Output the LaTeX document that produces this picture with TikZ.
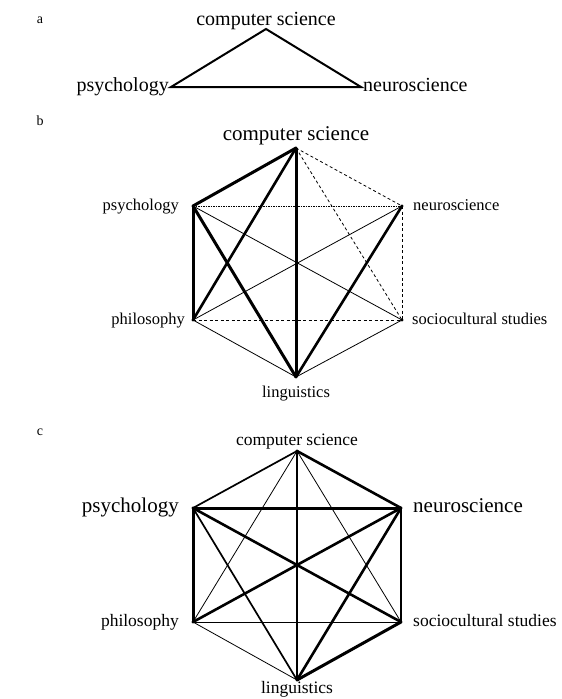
\documentclass[tikz,border=0pt]{standalone}
\usepackage{fontspec}
\setmainfont{Liberation Serif}
\begin{document}
\begin{tikzpicture}[x=1pt,y=-1pt,
  lbl/.style={inner sep=0pt},
  big/.style={lbl,font=\fontsize{21}{24}\selectfont},
  mida/.style={lbl,font=\fontsize{20}{24}\selectfont},
  smb/.style={lbl,font=\fontsize{16.5}{20}\selectfont},
  smc/.style={lbl,font=\fontsize{17.5}{20}\selectfont},
  panel/.style={lbl,font=\fontsize{14}{16}\selectfont},
  thk/.style={line width=3pt},
  thka/.style={line width=2.6pt},
  med/.style={line width=1.7pt},
  medt/.style={line width=1.2pt},
  thn/.style={line width=0.8pt},
  dsh/.style={line width=0.8pt,dash pattern=on 3pt off 2.5pt},
  dtt/.style={line width=0.9pt,dash pattern=on 1.5pt off 1pt},
  tri/.style={line width=2pt,line join=miter},
  every path/.style={line cap=butt}
]
\useasboundingbox (0,0) rectangle (562,699);

% ---------- panel a ----------
\node[panel,anchor=base] (pa) at (40,23) {a};
\coordinate (a-cs) at (266,29);
\coordinate (a-psy) at (171,87);
\coordinate (a-neu) at (361,87);
\draw[tri] (a-cs) -- (a-psy) -- (a-neu) -- cycle;
\node[mida,anchor=base] (a-csl) at (266,25) {computer science};
\node[mida,anchor=mid east] (a-psyl) at ([xshift=-2,yshift=-2]a-psy) {psychology};
\node[mida,anchor=mid west] (a-neul) at ([xshift=2,yshift=-2]a-neu) {neuroscience};

% ---------- panel b ----------
\node[panel,anchor=base] (pb) at (40,125) {b};
\coordinate (b-cs) at (296,148);
\coordinate (b-psy) at (193,206);
\coordinate (b-neu) at (402,206);
\coordinate (b-phi) at (193,320);
\coordinate (b-soc) at (402,320);
\coordinate (b-lin) at (296,377);

\draw[dsh] (b-cs) -- (b-neu);
\draw[dsh] (b-cs) -- (b-soc);
\draw[dtt] (b-psy) -- (b-neu);
\draw[dsh] (b-neu) -- (b-soc);
\draw[dsh] (b-phi) -- (b-soc);
\draw[thn] (b-psy) -- (b-soc);
\draw[thn] (b-neu) -- (b-phi);
\draw[thn] (b-phi) -- (b-lin);
\draw[thn] (b-soc) -- (b-lin);
\draw[thk] (b-cs) -- (b-psy);
\draw[thka] (b-cs) -- (b-phi);
\draw[thk] (b-cs) -- (b-lin);
\draw[thk] (b-psy) -- (b-phi);
\draw[thk] (b-psy) -- (b-lin);
\draw[thka] (b-neu) -- (b-lin);
\foreach \v in {b-cs,b-psy,b-neu,b-phi,b-soc,b-lin} \fill (\v) circle (1.6);

\node[big,anchor=base] (b-csl) at (296,140) {computer science};
\node[smb,anchor=mid east] (b-psyl) at ([xshift=-14,yshift=-2]b-psy) {psychology};
\node[smb,anchor=mid west] (b-neul) at ([xshift=11,yshift=-2]b-neu) {neuroscience};
\node[smb,anchor=mid east] (b-phil) at ([xshift=-8,yshift=-2]b-phi) {philosophy};
\node[smb,anchor=mid west] (b-socl) at ([xshift=10,yshift=-2]b-soc) {sociocultural studies};
\node[smb,anchor=base] (b-linl) at (296,397) {linguistics};

% ---------- panel c ----------
\node[panel,anchor=base] (pc) at (40,435) {c};
\coordinate (c-cs) at (297,451);
\coordinate (c-psy) at (193,508);
\coordinate (c-neu) at (401,508);
\coordinate (c-phi) at (193,622);
\coordinate (c-soc) at (401,622);
\coordinate (c-lin) at (297,680);

\draw[thn] (c-cs) -- (c-phi);
\draw[thn] (c-cs) -- (c-soc);
\draw[thn] (c-phi) -- (c-soc);
\draw[thn] (c-phi) -- (c-lin);
\draw[medt] (c-cs) -- (c-lin);
\draw[med] (c-cs) -- (c-psy);
\draw[med] (c-psy) -- (c-lin);
\draw[med] (c-neu) -- (c-soc);
\draw[thka] (c-cs) -- (c-neu);
\draw[thk] (c-psy) -- (c-neu);
\draw[thk] (c-psy) -- (c-phi);
\draw[thka] (c-psy) -- (c-soc);
\draw[thka] (c-neu) -- (c-phi);
\draw[thka] (c-neu) -- (c-lin);
\draw[thk] (c-soc) -- (c-lin);
\foreach \v in {c-cs,c-psy,c-neu,c-phi,c-soc,c-lin} \fill (\v) circle (1.6);

\node[smc,anchor=base] (c-csl) at (297,445) {computer science};
\node[big,anchor=mid east] (c-psyl) at ([xshift=-14,yshift=-2]c-psy) {psychology};
\node[big,anchor=mid west] (c-neul) at ([xshift=12,yshift=-2]c-neu) {neuroscience};
\node[smc,anchor=mid east] (c-phil) at ([xshift=-14,yshift=-2]c-phi) {philosophy};
\node[smc,anchor=mid west] (c-socl) at ([xshift=12,yshift=-2]c-soc) {sociocultural studies};
\node[smc,anchor=base] (c-linl) at (297,693) {linguistics};
\end{tikzpicture}
\end{document}
